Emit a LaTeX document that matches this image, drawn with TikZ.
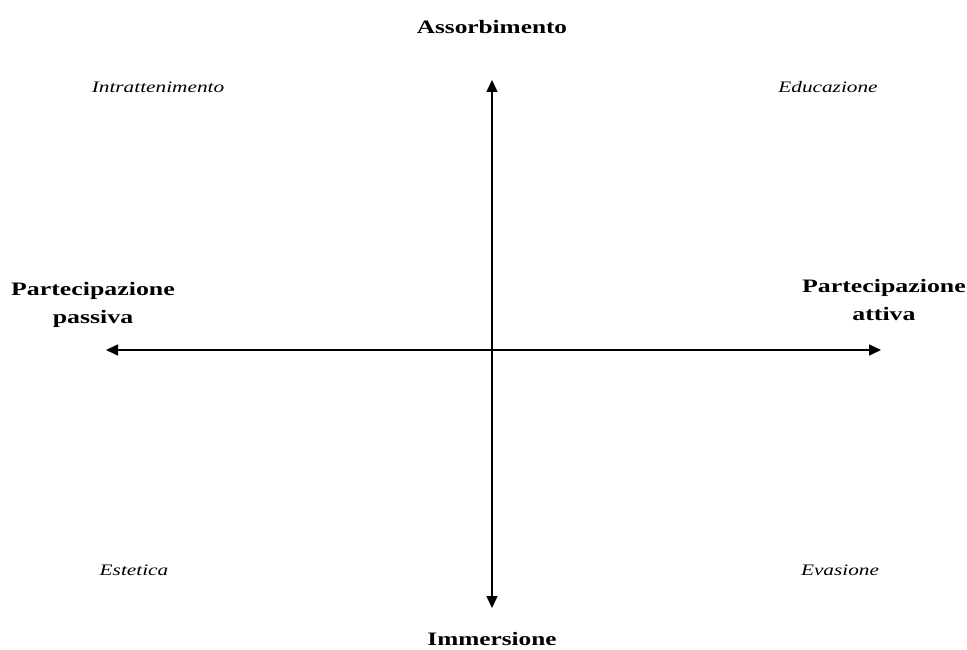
\documentclass[tikz,border=0pt]{standalone}
\usepackage{fontspec}
\setmainfont{Liberation Serif}
\usetikzlibrary{arrows.meta}
\newcommand{\widetxt}[1]{\scalebox{1.33}[1]{#1}}
\newcommand{\twoline}[2]{\scalebox{1.36}[1]{\begin{tabular}{@{}c@{}}#1\\#2\end{tabular}}}
\begin{document}
\begin{tikzpicture}[x=1pt,y=-1pt,
  axis/.style={line width=1.6pt,{Triangle[length=12pt,width=11pt]}-{Triangle[length=12pt,width=11pt]}},
  axlabel/.style={font=\bfseries\fontsize{19}{28}\selectfont,align=center,inner sep=0pt},
  quad/.style={font=\itshape\fontsize{16}{20}\selectfont,inner sep=0pt}]
\useasboundingbox[fill=white] (0,0) rectangle (967,650);
\coordinate (top) at (492,80);
\coordinate (bot) at (492,608);
\coordinate (lft) at (106,350);
\coordinate (rgt) at (881,350);
\draw[axis] (bot) -- (top);
\draw[axis] (lft) -- (rgt);
\node[axlabel] (abs) at (492,27) {\widetxt{Assorbimento}};
\node[axlabel] (imm) at (492,639) {\widetxt{Immersione}};
\node[axlabel] (pp) at (93,304) {\twoline{Partecipazione}{passiva}};
\node[axlabel] (pa) at (884,301) {\twoline{Partecipazione}{attiva}};
\node[quad] (intr) at (158,87) {\widetxt{Intrattenimento}};
\node[quad] (edu) at (828,87) {\widetxt{Educazione}};
\node[quad] (est) at (134,570) {\widetxt{Estetica}};
\node[quad] (eva) at (840,570) {\widetxt{Evasione}};
\end{tikzpicture}
\end{document}
